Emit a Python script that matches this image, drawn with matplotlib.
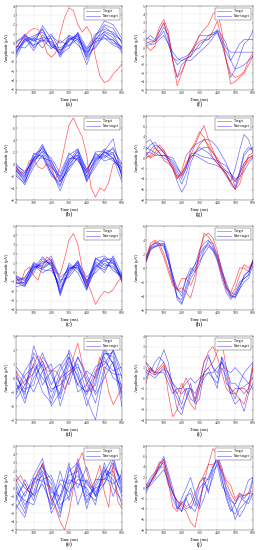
import matplotlib.pyplot as plt
from matplotlib.lines import Line2D

# time axes (ms)
t25 = list(range(0, 601, 25))
t50 = list(range(0, 601, 50))

# (a)
a_target = [[-0.5, 0.2, 0.8, 1.3, 1.6, 1.5, 0.5, -1.0, -1.5, -1.0, 1.0, 2.8, 3.8,
             3.5, 2.0, 1.2, 1.8, 1.0, -1.5, -3.5, -4.2, -4.0, -3.3, -2.8, -2.2]]
a_nontarget = [
    [-0.5, 0.8, 0.2, 1.5, -0.3, -1.0, 0.5, 0.8, -1.2, 0.5, 1.2, 0.6, -0.5],
    [-1.0, 0.5, -0.3, 1.9, 0.5, -1.5, 0.3, 1.0, -0.8, 0.8, 2.4, 2.0, 0.5],
    [-1.5, 0.3, 0.6, 0.2, 1.0, -0.8, 0.6, 0.2, -2.3, 0.3, 1.8, 1.0, -0.8],
    [0.0, 1.0, -0.5, 0.5, -0.6, 0.3, -0.3, 0.5, -1.5, -0.3, 1.0, 0.0, -0.3],
    [-0.8, 0.4, 0.8, 1.2, 0.0, -1.2, -0.5, 1.2, -0.5, 1.0, 1.5, 1.2, 0.2],
    [-0.3, -0.5, 0.5, -0.5, 0.8, 0.0, 0.8, -0.2, -1.0, 0.5, 0.6, -0.2, -0.6],
    [-1.2, 0.6, -0.8, 0.9, -0.2, -0.5, 0.2, 1.1, -1.8, 0.0, 1.3, 0.9, 0.3],
    [-0.6, 0.9, 0.3, 0.6, 0.5, -1.3, 0.9, 0.4, -0.9, -0.5, 0.9, 0.3, -0.5],
    [-0.9, 0.2, 0.5, 1.6, -0.4, -0.7, -0.2, 0.9, -1.4, 0.7, 2.0, 1.6, 0.0],
    [0.2, 0.7, -0.2, 0.3, 0.2, -1.0, 0.4, 0.6, -0.6, 0.2, 0.5, 0.4, -1.0],
]

# (b)
b_target = [[-0.5, -1.5, -1.5, 0.5, 0.8, -0.5, -0.8, 0.0, -0.5, -2.5, -0.5, 3.0, 6.5,
             7.7, 6.0, 4.5, 1.5, -4.0, -5.5, -4.0, -4.5, -3.0, 0.0, 0.5, 0.0]]
b_nontarget = [
    [-0.5, -2.5, 1.0, 3.3, 0.0, -3.0, 0.5, 2.5, -1.5, 0.5, 2.0, 1.0, -1.5],
    [-1.0, -3.0, 0.5, 2.0, -1.0, -4.5, -0.5, 1.0, -2.5, 0.0, 2.2, 4.2, -2.5],
    [-0.8, -2.0, 1.5, 2.5, -0.5, -2.0, 1.5, 2.5, -1.0, 1.5, 1.5, 0.5, -0.5],
    [-1.5, -3.5, -0.5, 1.5, -1.5, -3.5, 0.0, 1.5, -3.0, 0.5, 2.0, 1.5, -1.0],
    [-0.5, -1.8, 1.0, 1.0, 0.5, -2.5, 1.0, 0.8, -2.0, 1.0, 1.0, 2.0, -2.0],
    [-1.0, -2.8, 0.0, 3.0, -0.2, -2.8, -1.0, 1.2, -1.5, 2.0, 2.2, 0.8, -1.2],
    [-2.0, -3.2, 1.2, 1.5, -1.5, -3.8, 0.3, 2.0, -2.8, -0.5, 1.8, 2.5, 0.0],
    [-0.3, -1.2, 0.5, 2.2, 1.0, -1.5, 1.8, 0.5, -1.2, 1.8, 0.5, 1.0, -3.0],
    [-1.2, -2.2, 1.8, 1.2, -2.0, -3.0, -0.5, 2.2, -2.2, 0.8, 2.5, 1.8, -1.8],
    [0.0, -1.5, 0.8, 2.8, 0.5, -2.2, 0.8, 1.5, -0.8, 1.2, 1.2, 2.8, -0.8],
]

# (c)
c_target = [[-0.5, -1.2, 0.2, 0.6, -0.3, -0.8, 0.8, 1.7, 1.2, 0.0, -0.2, 1.5, 3.5,
             4.2, 3.0, 0.5, -1.0, -2.0, -3.4, -2.6, -2.0, -2.2, -1.8, -1.0, -0.5]]
c_nontarget = [
    [-0.5, -1.2, 1.0, 0.5, 1.2, -0.5, 0.3, 1.0, -1.8, 0.5, 1.5, 1.3, -0.5],
    [-1.0, -1.5, 0.5, 1.0, 1.5, -2.5, 0.5, 0.8, -1.5, 1.5, 1.8, 1.0, -0.3],
    [-0.8, -0.5, 0.8, 0.0, 0.5, -1.5, 0.0, 1.3, -1.0, 1.2, 0.5, 1.5, -0.8],
    [-1.5, -1.3, 0.0, 1.5, 0.8, -2.2, 1.0, 0.3, -0.8, 0.0, 1.0, 0.5, -0.5],
    [-0.3, -0.8, 0.6, 0.8, 1.8, -0.8, -0.5, 0.8, -1.2, 1.0, 0.0, 1.8, -0.2],
    [-1.2, -1.0, 0.9, 0.3, 0.2, -1.2, 0.8, 0.0, -1.9, 1.4, 1.2, 1.0, -1.0],
    [-0.6, -1.4, 0.3, 1.2, 1.0, -2.0, 0.2, 1.2, -0.5, 0.6, 1.6, 0.2, -0.4],
    [-0.9, -0.6, 1.1, 0.6, 1.4, -1.0, 0.6, 0.5, -1.4, 0.8, 0.3, 1.2, -0.6],
    [-1.1, -1.1, 0.4, 1.7, 0.7, -1.8, -0.2, 1.1, -1.1, 1.6, 0.8, 0.7, -0.7],
    [-0.4, -0.9, 0.7, 0.4, 1.1, -2.3, 0.4, 0.6, -1.6, 0.3, 1.3, 1.6, -0.9],
]

# (d)
d_target = [[0.5, 0.0, -0.5, 0.0, 1.0, 1.6, 1.2, 0.5, 0.5, 0.5, 0.0, -0.8, 0.0,
             1.5, 2.5, 1.0, -0.5, -1.0, 0.3, 1.5, 0.5, -1.0, -1.9, -1.3, -0.5]]
d_nontarget = [
    [-0.5, -1.0, 2.3, 0.5, -1.5, 0.5, 1.5, -0.5, -1.0, -0.5, 2.0, 1.0, -1.0],
    [0.5, -1.5, 0.0, 1.0, -2.0, -1.0, 2.0, 0.5, -1.5, -3.0, 0.5, 2.0, 0.5],
    [-1.0, 0.5, 1.5, -0.5, 0.5, 1.0, -0.5, 1.5, 0.0, -1.0, 1.5, 0.0, -0.5],
    [0.0, -0.8, -0.5, 1.5, 0.5, -1.5, 1.0, -0.5, 0.5, 0.0, 1.8, 1.5, -1.5],
    [-1.5, -0.5, 1.0, 0.0, -1.0, 0.0, 0.5, 1.0, -1.0, 0.5, 1.0, 2.0, 0.0],
    [0.8, 0.0, -1.0, 0.5, 1.0, -2.0, 0.0, 1.5, 0.3, -1.2, 0.0, 1.2, -2.0],
    [-0.3, -1.8, 0.5, 1.2, -0.5, 0.8, 1.8, -1.0, -0.5, 0.8, 1.2, 0.5, 0.8],
    [-1.2, 0.2, 0.8, -1.0, -1.8, 0.0, 1.2, 0.2, -2.0, -0.2, 1.7, 1.8, -0.8],
    [0.2, -1.2, 1.8, 0.8, -0.8, -0.5, 0.3, 0.8, -0.2, -1.8, 0.8, 0.3, 0.2],
    [-0.8, -0.2, 0.3, 1.8, 0.2, -1.2, 1.5, 0.0, -1.2, 0.2, 2.2, 1.0, -1.2],
]

# (e)
e_target = [[0.8, 1.5, 0.5, -0.5, 0.5, 2.0, 2.8, 1.0, -1.5, -2.5, -4.0, -5.0, -3.0,
             0.0, 3.0, 4.2, 2.0, 0.0, 1.0, 2.7, -0.5, -2.3, 3.0, -1.5, -2.5]]
e_nontarget = [
    [1.0, -1.0, 1.5, 3.5, -1.0, -3.5, 2.5, 0.0, 2.5, -1.0, 0.5, 3.5, -0.5],
    [-1.0, 0.5, -1.5, 2.5, 1.0, -2.0, -1.0, 3.5, -0.5, -1.5, 2.0, 1.0, -2.0],
    [-2.0, -3.5, 0.5, 1.5, -2.5, 1.0, 0.5, 1.5, -1.5, 0.5, 2.5, -1.0, 2.0],
    [0.5, -2.0, -0.5, 3.0, -0.5, -1.0, 3.0, -2.0, 1.0, -0.5, 1.5, 2.0, -1.0],
    [-1.5, 1.0, -1.0, 0.5, -2.0, 2.0, -1.5, 2.5, -2.5, 1.0, 1.0, 3.0, 0.5],
    [0.0, -2.5, 1.0, 2.0, 0.5, -3.0, 1.0, 0.5, 0.0, -2.0, 3.0, 0.0, -1.5],
    [-0.5, -1.5, -2.0, 1.0, 1.5, -1.5, 2.0, 3.0, -1.0, 0.0, 0.5, 2.5, 1.0],
    [-2.5, -0.5, 0.8, 2.8, -1.5, 0.5, -0.5, 1.0, 0.8, -1.0, 2.2, 1.5, -0.5],
    [1.5, 0.0, -0.8, 1.8, -3.0, -1.0, 1.5, 2.0, -1.8, 0.2, 1.8, 3.8, 0.0],
    [-1.0, -3.0, 1.2, 0.8, 0.0, -2.5, 0.2, 2.8, 0.5, -0.8, 1.2, 0.5, 1.5],
]

# (f)
f_target = [
    [0.8, 0.5, 0.8, 2.5, 3.4, 2.0, -1.5, -4.5, -3.0, -1.5, -0.5, 0.5, 1.5,
     2.2, 2.8, 4.0, 4.5, 2.0, -1.5, -4.3, -4.0, -3.5, -3.0, -2.0, -1.0],
    [0.3, -0.3, 0.2, 2.0, 3.0, 1.5, -1.5, -3.5, -2.8, -1.5, -0.5, 0.2, 0.8,
     1.0, 1.0, 2.0, 3.2, 1.0, -1.5, -3.0, -3.5, -3.3, -2.8, -1.5, -0.5],
]
f_nontarget = [
    [1.0, 1.5, 1.0, 2.0, 3.0, 1.0, -1.5, -3.5, -2.0, -1.5, -1.5, -1.0, -0.5,
     0.0, 0.5, 1.2, 2.0, 0.5, -1.5, -3.5, -2.5, -1.0, 0.5, 1.0, 2.0],
    [0.5, 0.8, 0.8, 1.5, 2.5, 1.5, -1.0, -2.0, -1.5, -1.2, -1.0, -0.3, 0.5,
     0.8, 1.0, 1.5, 2.2, 1.5, 0.5, -1.5, -0.5, 0.5, 1.0, 1.0, 1.0],
    [1.2, 1.0, 0.8, 1.3, 2.0, 0.5, -1.2, -1.5, -1.2, -1.0, -0.5, -0.2, 0.0,
     0.8, 1.5, 1.8, 2.0, 1.0, 0.0, -0.5, -0.5, -0.5, -0.5, -0.5, -0.5],
    [0.3, 0.4, 0.5, 1.0, 1.5, 0.5, -0.5, -1.2, -1.5, -1.3, -1.0, 0.3, 1.5,
     1.5, 1.5, 1.6, 1.8, 0.5, -0.5, -1.5, -2.5, -2.3, -2.0, -1.5, -1.0],
]

# (g)
g_target = [
    [1.0, 0.2, 1.0, 2.5, 1.5, -0.5, -2.0, -3.5, -3.0, -1.0, 0.5, 2.5, 4.5,
     6.2, 3.5, 1.5, -0.5, -2.0, -3.0, -4.5, -6.0, -5.0, -2.0, 0.5, 1.0],
    [0.0, 0.5, 2.0, 1.0, -0.5, -1.0, -2.0, -4.0, -2.5, 0.5, 1.5, 3.0, 5.0,
     4.0, 2.0, 0.0, -1.0, -2.0, -3.0, -4.5, -5.8, -4.0, -1.5, -0.5, 0.3],
    [0.5, 0.0, 0.5, 1.5, 1.5, 0.0, -1.5, -3.8, -3.2, -1.5, 0.0, 1.0, 2.5,
     3.5, 2.5, 1.0, 0.0, -1.5, -2.5, -3.5, -4.5, -3.0, -1.0, 0.0, 0.5],
]
g_nontarget = [
    [1.5, 2.5, 3.0, 2.0, 1.0, -0.5, -2.0, -4.5, -6.5, -5.0, -1.0, 1.0, 2.0,
     1.5, 1.0, 0.0, -1.0, -2.0, -3.5, -4.5, -2.0, 1.5, 4.5, 3.5, 1.0],
    [3.0, 3.5, 2.0, 1.0, 0.0, -0.5, -1.5, -3.0, -5.0, -3.0, 0.0, 1.0, 1.5,
     2.0, 2.0, 1.0, -0.5, -2.0, -3.0, -5.0, -6.0, -3.0, 0.5, 1.5, 2.0],
    [2.0, 1.5, 1.0, 0.5, 0.5, 0.0, -1.0, -2.5, -4.0, -2.0, 1.5, 2.5, 3.0,
     3.5, 3.5, 3.0, 2.0, 0.5, -1.0, -3.0, -4.5, -3.0, -1.0, 0.0, 0.5],
    [0.5, 1.5, 2.5, 2.0, 1.0, 0.0, -0.5, -2.0, -3.0, -1.5, 0.5, 0.5, 0.0,
     -0.5, -1.0, -1.2, -1.5, -2.0, -2.5, -3.0, -4.0, -3.5, -2.5, -1.0, 0.0],
    [1.0, 1.0, 0.5, 0.5, 0.5, 0.3, 0.0, -1.5, -3.5, -2.0, 0.8, 1.0, 0.5,
     0.2, 0.0, -0.2, -0.5, -1.0, -1.5, -3.0, -5.5, -2.5, 1.0, 2.0, 1.5],
]

# (h)
h_target = [
    [1.5, 3.5, 4.0, 3.5, 2.0, 0.0, -2.0, -3.2, -2.8, -3.5, -4.3, -2.0, 2.0,
     5.0, 4.5, 3.5, 1.5, -1.0, -3.0, -3.5, -2.0, 0.0, 0.0, -0.5, 1.0],
    [1.0, 3.0, 3.8, 3.0, 1.5, -0.5, -2.5, -3.0, -1.5, -1.5, -2.5, -1.0, 2.5,
     4.5, 5.0, 4.3, 2.5, -0.5, -2.5, -4.0, -3.0, -1.0, 0.5, 0.0, 1.0],
]
h_nontarget = [
    [1.0, 2.8, 3.5, 3.5, 3.0, 1.0, -1.5, -4.0, -5.0, -3.0, -1.0, 0.0, 1.0,
     2.0, 3.0, 2.5, 1.5, -0.5, -3.0, -4.2, -4.0, -2.5, -1.5, -1.0, 1.0],
    [1.5, 3.0, 3.0, 3.5, 3.5, 1.5, -1.0, -4.5, -5.2, -3.5, -1.5, -0.5, 0.5,
     2.5, 3.8, 3.5, 2.0, 0.0, -2.5, -4.0, -4.3, -3.0, -1.0, -0.5, 0.8],
    [1.2, 3.2, 3.5, 3.9, 3.8, 2.0, -1.5, -3.0, -4.0, -1.5, 0.0, -0.5, 2.0,
     3.0, 3.5, 2.5, 1.0, -1.5, -3.5, -4.5, -3.5, -2.0, -1.5, -1.0, 1.2],
    [0.8, 2.5, 3.2, 3.3, 3.2, 1.0, -2.0, -4.2, -4.5, -2.5, -0.5, 0.5, 1.5,
     2.8, 3.2, 2.8, 1.8, -0.5, -2.0, -3.8, -4.2, -3.0, -2.0, -1.5, 0.5],
    [1.0, 2.7, 3.0, 3.2, 3.5, 1.2, -1.0, -3.0, -3.5, -1.5, -0.8, 0.5, 2.5,
     3.5, 4.0, 3.0, 1.2, -1.0, -2.8, -3.5, -3.8, -2.5, -1.2, -0.5, 1.0],
]

# (i)
i_target = [
    [-0.5, 1.0, 0.5, 1.0, 1.5, -1.5, -3.7, -3.0, -1.0, 0.0, -1.0, -2.0, -0.5,
     1.5, 2.5, 3.0, 2.0, 0.5, -1.0, -1.5, -1.5, -1.0, -1.0, -1.5, 1.0],
    [1.5, 0.5, 0.3, 0.8, 1.2, 0.5, -1.0, -1.5, -0.5, -1.5, -2.5, -3.0, -1.0,
     0.5, 1.0, 1.5, 2.5, 3.5, 1.0, -1.0, -1.5, -2.0, -2.5, -1.0, 1.0],
]
i_nontarget = [
    [0.5, 1.0, 0.5, 1.5, 2.7, 1.5, -1.0, -3.0, -3.5, -2.0, -1.0, -2.5, -2.0,
     0.5, 2.0, 1.0, 0.5, 1.5, 0.5, -1.5, -2.5, -2.0, -3.2, -1.5, -0.5],
    [1.5, 1.0, 0.3, 0.5, 1.0, 0.0, -1.0, -2.0, -3.0, -2.0, -0.5, -2.2, -0.5,
     1.5, 2.2, 1.0, 0.0, 2.0, -0.5, -1.0, -2.0, -0.5, 0.5, 1.0, 1.5],
    [0.8, 0.5, 1.5, 2.0, 1.5, 0.5, -0.5, -1.5, -2.5, -1.0, -2.0, -2.3, -1.0,
     0.0, 0.5, 0.5, 1.0, 1.5, 0.8, 0.5, 1.0, 0.5, 0.0, -0.5, -1.0],
    [0.0, 0.8, 0.5, 0.5, 0.8, 0.5, -0.5, -1.0, -1.5, -1.0, -1.0, -1.5, -0.5,
     0.5, 1.0, 0.0, -1.0, 2.0, 1.0, -0.5, -0.5, -1.0, -1.5, -1.0, 1.5],
    [0.5, 0.3, 0.0, 0.5, 0.5, -0.5, -1.5, -1.0, -1.0, -0.5, 0.0, -0.5, 0.0,
     0.3, 0.5, 0.0, -0.5, 1.0, 0.0, -1.5, -1.0, -1.0, -0.8, -0.5, 0.0],
]

# (j)
j_target = [
    [0.0, 1.0, 2.5, 4.5, 5.5, 2.0, -1.0, -2.5, -3.5, -4.5, -6.5, -7.5, -3.0,
     1.0, 4.5, 7.5, 6.5, 3.0, 1.0, -1.0, -2.5, -1.5, -1.5, -1.0, -0.5],
    [0.5, 1.0, 3.0, 5.0, 4.5, 1.0, -3.5, -4.5, -2.5, -3.5, -3.0, -1.0, 1.0,
     2.5, 4.5, 4.5, 5.0, 3.5, 1.5, 0.5, -2.0, -1.0, -1.5, -1.0, -1.0],
]
j_nontarget = [
    [-1.0, 1.0, 2.0, 4.5, 6.0, 3.0, 0.0, -3.5, -4.5, -2.0, 0.0, -2.5, -4.0,
     -2.0, 1.0, 3.5, 6.0, 2.0, -2.0, -4.5, -3.0, -1.0, -2.0, -1.0, 2.0],
    [0.0, 1.5, 2.5, 3.5, 5.5, 1.0, -2.0, -4.0, -2.0, 0.0, 2.0, -1.0, -3.5,
     2.0, 1.5, 4.0, 5.5, 1.5, -1.5, -4.0, -5.0, -3.0, -1.0, 1.5, 2.0],
    [0.5, 2.0, 3.0, 4.0, 5.0, 2.5, -1.0, -2.5, -4.5, -1.5, -1.0, -3.5, 0.0,
     1.0, -0.5, 2.0, 5.0, 3.0, -0.5, -2.5, -3.0, -1.5, -2.5, -3.0, -1.0],
    [0.0, 0.5, 1.5, 2.5, 3.5, 1.5, -1.0, -2.5, -3.0, -4.0, -3.5, -4.5, -2.0,
     0.5, 2.0, 4.0, 6.0, 4.0, 0.0, -2.0, -3.5, -5.5, -4.0, -2.0, -1.0],
    [-0.5, 1.0, 2.5, 4.0, 4.0, 0.5, -0.5, -4.0, -3.0, -2.0, -4.0, -2.0, 1.0,
     2.0, -1.0, 3.0, 4.5, 0.5, -1.0, -3.0, -6.0, -4.0, -3.0, -2.0, 1.5],
]

plt.rcParams['font.family'] = ['Liberation Serif', 'DejaVu Serif']

fig = plt.figure(figsize=(2.64, 5.5), dpi=100)
W, H = 264, 550


def draw(col, row, target, nontarget, t_non, ylim, ystep, label):
    left = 16 if col == 0 else 146
    width = 106 if col == 0 else 107
    top = 6 + 110 * row
    ax = fig.add_axes([left / W, 1 - (top + 84) / H, width / W, 84 / H])
    for y in nontarget:
        ax.plot(t_non, y, color='blue', lw=0.5, alpha=0.55)
    for y in target:
        ax.plot(t25, y, color='red', lw=0.5, alpha=0.65)
    ax.set_xlim(0, 600)
    ax.set_ylim(*ylim)
    ax.set_xticks(range(0, 601, 100))
    ax.set_yticks(range(ylim[0], ylim[1] + 1, ystep))
    ax.grid(True, color='#e4e4e4', lw=0.3)
    ax.set_axisbelow(True)
    ax.tick_params(labelsize=2.8, length=1, width=0.3, pad=1, direction='in',
                   top=True, right=True, colors='#333333')
    for s in ax.spines.values():
        s.set_linewidth(0.3)
        s.set_color('#444444')
    ax.set_xlabel('Time (ms)', fontsize=3.2, labelpad=1)
    ax.set_ylabel('Amplitude (μV)', fontsize=3.2, labelpad=1)
    handles = [Line2D([], [], color='red', lw=0.5, alpha=0.65),
               Line2D([], [], color='blue', lw=0.5, alpha=0.55)]
    leg = ax.legend(handles, ['Target', 'Non-target'], loc='upper right',
                    fontsize=2.6, handlelength=4, borderpad=0.4,
                    labelspacing=0.3, fancybox=False, framealpha=1)
    leg.get_frame().set_linewidth(0.3)
    leg.get_frame().set_edgecolor('#444444')
    cx = (left + width / 2) / W
    fig.text(cx, 1 - (top + 98) / H, label, ha='center', va='center', fontsize=4.5)


draw(0, 0, a_target, a_nontarget, t50, (-5, 4), 1, '(a)')
draw(0, 1, b_target, b_nontarget, t50, (-6, 8), 2, '(b)')
draw(0, 2, c_target, c_nontarget, t50, (-4, 5), 1, '(c)')
draw(0, 3, d_target, d_nontarget, t50, (-3, 3), 1, '(d)')
draw(0, 4, e_target, e_nontarget, t50, (-5, 5), 1, '(e)')
draw(1, 0, f_target, f_nontarget, t25, (-5, 5), 1, '(f)')
draw(1, 1, g_target, g_nontarget, t25, (-8, 8), 2, '(g)')
draw(1, 2, h_target, h_nontarget, t25, (-6, 6), 2, '(h)')
draw(1, 3, i_target, i_nontarget, t25, (-4, 4), 1, '(i)')
draw(1, 4, j_target, j_nontarget, t25, (-8, 8), 2, '(j)')

fig.savefig('out.png', dpi=100)
